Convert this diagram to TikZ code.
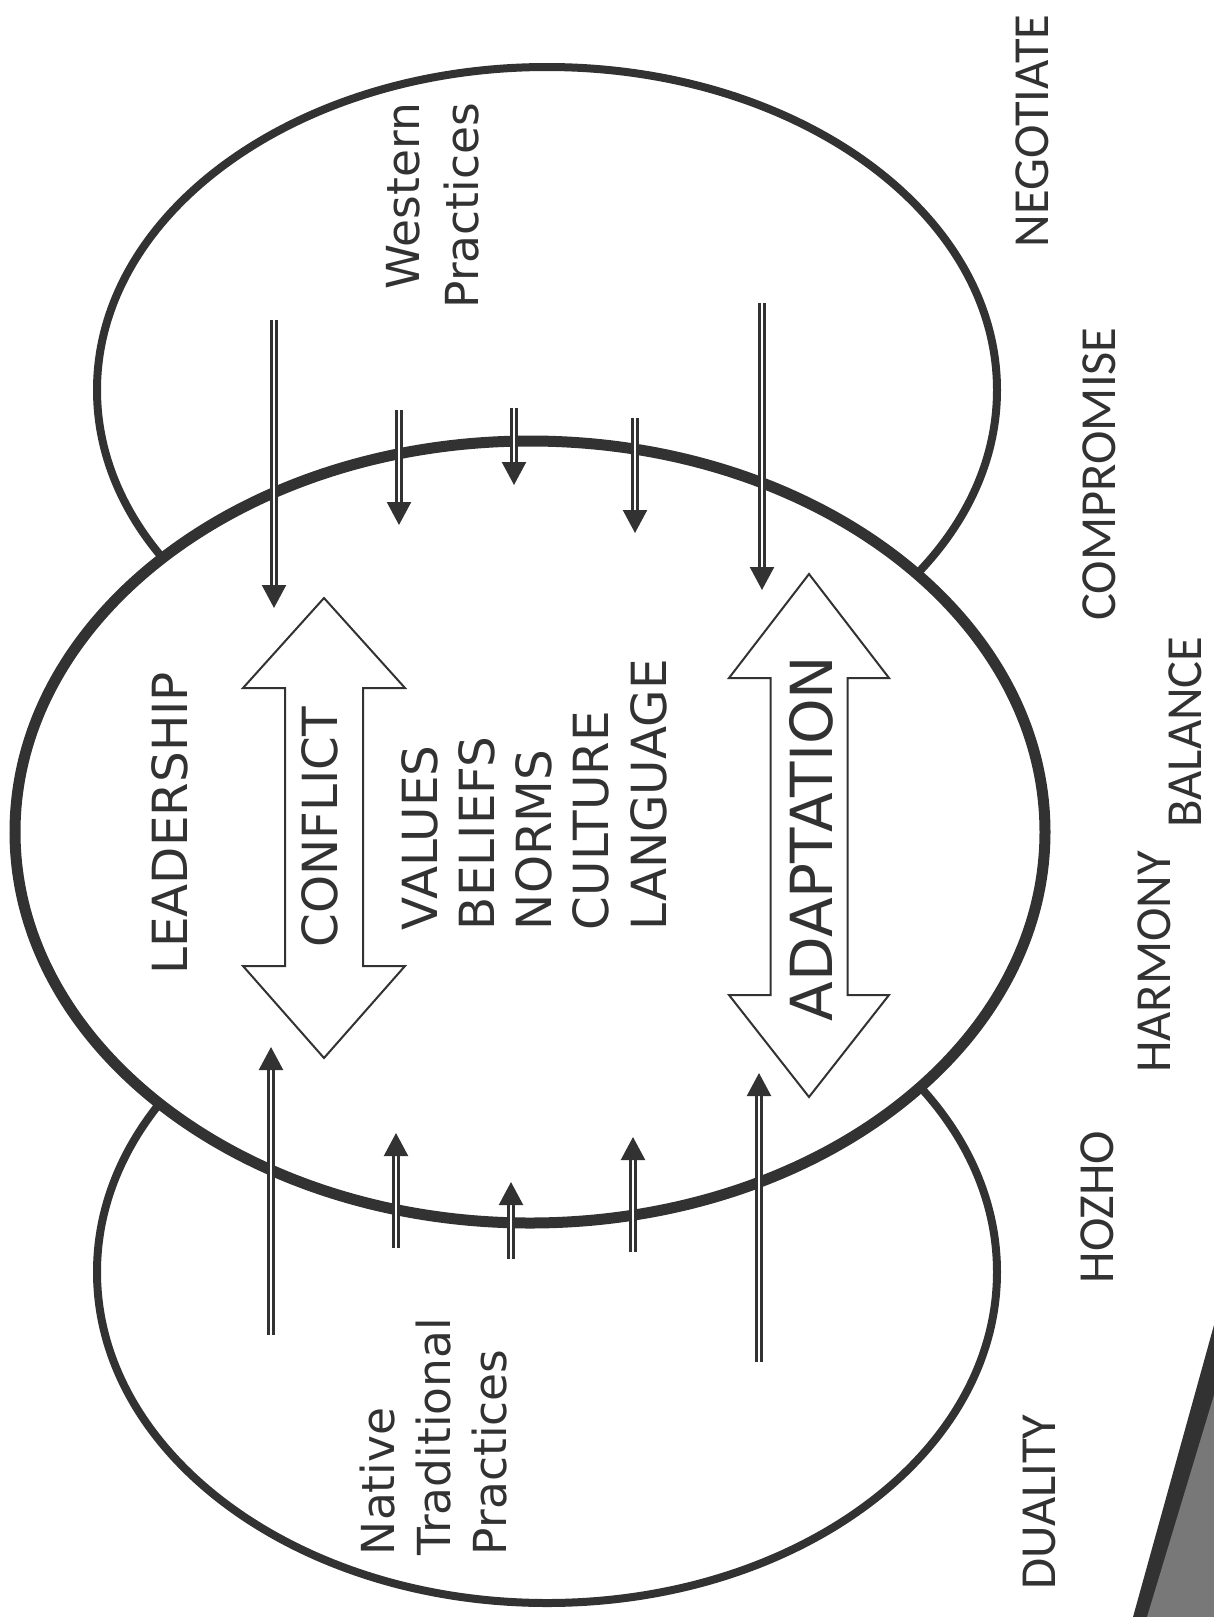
\documentclass[tikz,border=0pt]{standalone}
\usepackage{fontspec}
\setmainfont{DejaVu Sans}
\newfontfamily\calfont{Carlito}
\usetikzlibrary{arrows.meta,shapes.geometric}
\definecolor{ink}{RGB}{50,50,50}
\definecolor{scan}{RGB}{120,120,120}
\begin{document}
\begin{tikzpicture}[x=0.5pt,y=-0.5pt,
  lbl/.style={rotate=90, inner sep=0pt, outer sep=0pt, text=ink},
  caps/.style={lbl, font=\fontsize{24.2pt}{29pt}\selectfont},
  bigcaps/.style={lbl, font=\fontsize{29pt}{34pt}\selectfont},
  mixed/.style={lbl, font=\fontsize{22.75pt}{27pt}\selectfont},
  side/.style={lbl, font=\calfont\fontsize{25.25pt}{30pt}\selectfont},
  ring/.style={ellipse, draw=ink, inner sep=0pt, outer sep=0pt},
  outerring/.style={ring, line width=4pt, minimum width=450pt},
  dbl/.style={draw=ink, line width=1.15pt, double=white, double distance=1.4pt,
    -{Triangle[length=11.5pt,width=12pt,fill=ink]}},
  hollow/.style={draw=ink, line width=1pt, fill=white, line join=miter}
]
\useasboundingbox (0,0) rectangle (1214,1617);
\fill[white] (0,0) rectangle (1214,1617);

% practice ellipses
\node[outerring, minimum height=323pt] (west) at (547,390) {};
\node[outerring, minimum height=331pt] (native) at (547,1272) {};
% central leadership ellipse
\node[ring, line width=5.5pt, fill=white, minimum width=515pt, minimum height=391pt] (core) at (530,832) {};

% hollow double arrows
\draw[hollow] (324,598) -- (405,688) -- (363,688) -- (363,966) -- (405,966) -- (324,1058)
  -- (243,966) -- (285,966) -- (285,688) -- (243,688) -- cycle;
\draw[hollow] (809,574) -- (889,678) -- (847.5,678) -- (847.5,995) -- (889,995) -- (809,1097)
  -- (729,995) -- (770.5,995) -- (770.5,678) -- (729,678) -- cycle;

% arrows from western practices (down)
\coordinate (ta1) at (274,320); \coordinate (tb1) at (274,608);
\coordinate (ta2) at (399,410); \coordinate (tb2) at (399,525);
\coordinate (ta3) at (514,408); \coordinate (tb3) at (514,485);
\coordinate (ta4) at (635,418); \coordinate (tb4) at (635,533);
\coordinate (ta5) at (762,303); \coordinate (tb5) at (762,590);
\foreach \i in {1,...,5} {\draw[dbl] (ta\i) -- (tb\i);}
% arrows from native practices (up)
\coordinate (ba1) at (271,1335); \coordinate (bb1) at (271,1047);
\coordinate (ba2) at (396,1248); \coordinate (bb2) at (396,1133);
\coordinate (ba3) at (511,1259); \coordinate (bb3) at (511,1182);
\coordinate (ba4) at (633,1252); \coordinate (bb4) at (633,1137);
\coordinate (ba5) at (759,1362); \coordinate (bb5) at (759,1073);
\foreach \i in {1,...,5} {\draw[dbl] (ba\i) -- (bb\i);}

% central texts
\node[caps, anchor=base] (lead) at (187,823.5) {LEADERSHIP};
\node[caps, anchor=base] (confl) at (337,827.5) {CONFLICT};
\node[caps, anchor=base west] (values) at (437,930) {VALUES};
\node[caps, anchor=base west] (beliefs) at (494.3,930) {BELIEFS};
\node[caps, anchor=base west] (norms) at (551.6,930) {NORMS};
\node[caps, anchor=base west] (culture) at (608.9,930) {CULTURE};
\node[caps, anchor=base west] (language) at (666.2,930) {LANGUAGE};
\node[bigcaps, anchor=base] (adapt) at (832,838.5) {ADAPTATION};

% practice labels
\node[mixed, anchor=base east] (wa) at (419,103) {Western};
\node[mixed, anchor=base east] (wb) at (478,103) {Practices};
\node[mixed, anchor=base west] (na) at (394,1555) {Native};
\node[mixed, anchor=base west] (nb) at (450,1555) {Traditional};
\node[mixed, anchor=base west] (nc) at (506,1555) {Practices};

% side labels
\node[side, anchor=base] (neg) at (1048,131) {NEGOTIATE};
\node[side, anchor=base] (comp) at (1115,474) {COMPROMISE};
\node[side, anchor=base] (bal) at (1201,732) {BALANCE};
\node[side, anchor=base] (harm) at (1170,962) {HARMONY};
\node[side, anchor=base] (hozho) at (1113,1207) {HOZHO};
\node[side, anchor=base] (dual) at (1055,1502) {DUALITY};

% scanned page corner
\fill[ink] (1214,1325) -- (1133,1617) -- (1214,1617) -- cycle;
\fill[scan] (1214,1395) -- (1147,1617) -- (1214,1617) -- cycle;
\end{tikzpicture}
\end{document}
